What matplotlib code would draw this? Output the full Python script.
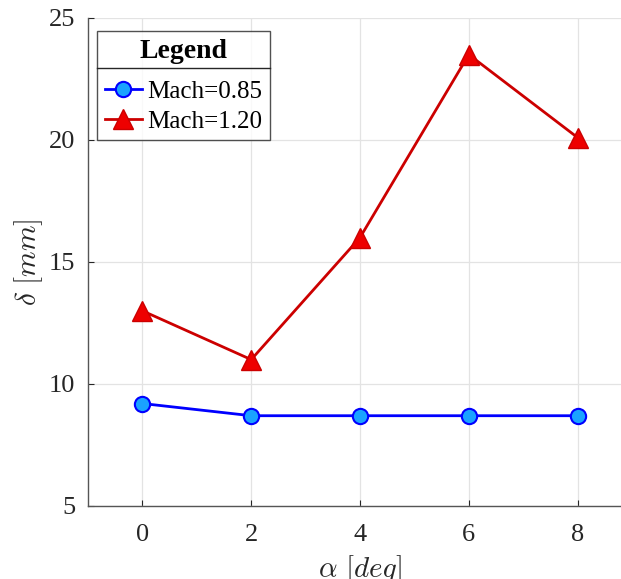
import matplotlib.pyplot as plt
from matplotlib.lines import Line2D

plt.rcParams['mathtext.fontset'] = 'cm'
plt.rcParams['font.family'] = 'Liberation Serif'

# angle of attack and displacement
alpha = [0, 2, 4, 6, 8]
delta_085 = [9.2, 8.7, 8.7, 8.7, 8.7]
delta_120 = [13.0, 11.0, 16.0, 23.5, 20.1]
xticks = [0, 2, 4, 6, 8]
yticks = [5, 10, 15, 20, 25]

fig = plt.figure(figsize=(6.21, 5.79), dpi=100)
W, H = 621, 579
# axes box runs past the right edge of the figure
ax = fig.add_axes([88 / W, 1 - 506 / H, (632 - 88) / W, (506 - 18) / H])

ax.plot(alpha, delta_085, '-o', color='#0000FF', lw=2, markersize=11,
        markerfacecolor='#1AA3FF', markeredgecolor='#0000FF', markeredgewidth=1.5,
        label='Mach=0.85', zorder=3)
ax.plot(alpha, delta_120, '-^', color='#CC0000', lw=2, markersize=14,
        markerfacecolor='#EE0000', markeredgecolor='#CC0000', markeredgewidth=1,
        label='Mach=1.20', zorder=3)

ax.set_xlim(-1, 9)
ax.set_ylim(5, 25)
ax.set_xticks(xticks)
ax.set_yticks(yticks)
ax.tick_params(direction='in', length=4, labelsize=19, colors='#262626')
ax.tick_params(axis='x', pad=13)
ax.tick_params(axis='y', pad=9)
ax.grid(True, color='#e3e3e3', lw=0.9)
ax.set_axisbelow(True)
for side in ['top', 'right']:
    ax.spines[side].set_visible(False)
for side in ['left', 'bottom']:
    ax.spines[side].set_color('#555555')
    ax.spines[side].set_linewidth(1)

ax.set_xlabel(r'$\alpha\ [deg]$', fontsize=21, color='#262626', labelpad=5)
ax.set_ylabel(r'$\delta\ [mm]$', fontsize=21, color='#262626', labelpad=3)

leg = ax.legend(loc='upper left', bbox_to_anchor=(9 / 544, 1 - 13 / 488),
                title='Legend', fontsize=18, title_fontproperties={'size': 20, 'weight': 'bold'},
                frameon=True, fancybox=False, edgecolor='#262626', handlelength=1.5,
                handletextpad=0.2, borderpad=0.3, labelspacing=0.3, borderaxespad=0)
leg.get_frame().set_linewidth(1)
leg._legend_box.sep = 12

# separator line under the legend title
fig.canvas.draw()
lb = leg.get_window_extent()
tb = leg.get_title().get_window_extent()
ysep = tb.y0 - 4
inv = fig.transFigure.inverted()
(x0, y0), (x1, _) = inv.transform([(lb.x0, ysep), (lb.x1, ysep)])
fig.add_artist(Line2D([x0, x1], [y0, y0], color='#262626', lw=1, zorder=10))

fig.savefig('out.png', dpi=100)
